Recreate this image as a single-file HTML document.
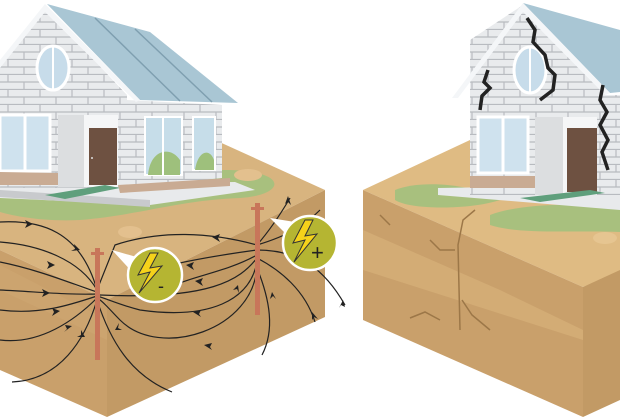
<!DOCTYPE html>
<html><head><meta charset="utf-8"><style>
html,body{margin:0;padding:0;background:#fff;width:620px;height:420px;overflow:hidden}
</style></head><body>
<svg width="620" height="420" viewBox="0 0 620 420" xmlns="http://www.w3.org/2000/svg">
<defs>
<pattern id="brick" width="32" height="15" patternUnits="userSpaceOnUse">
<rect width="32" height="15" fill="#e9ebed"/>
<path d="M0 14.5H32M0 7H32M8 0V7M24 7.5V15" stroke="#b8bbc0" stroke-width="1.2"/>
</pattern>
</defs>

<!-- LEFT BLOCK -->
<polygon points="0,175 215,140 325,190 107,300 0,250" fill="#d8b47f"/>
<polygon points="0,250 107,300 107,417 0,370" fill="#c9a06b"/>
<polygon points="107,300 325,190 325,317 107,417" fill="#c29a65"/>
<polygon points="0,265 107,320 107,340 0,290" fill="#cfa771" opacity=".6"/>
<path d="M0,190 C60,180 160,170 230,170 C290,172 285,195 240,198 C180,200 140,215 80,220 C40,222 10,215 0,212Z" fill="#a8c07e"/>
<ellipse cx="130" cy="232" rx="12" ry="6" fill="#e3c08e"/>
<ellipse cx="248" cy="175" rx="14" ry="6" fill="#e3c08e"/>

<!-- LEFT HOUSE -->
<polygon points="0,185 235,182 255,190 150,205 0,198" fill="#e8eaec"/>
<polygon points="0,190 150,200 150,207 0,197" fill="#c8cacd"/>
<polygon points="127,100 222,105 222,178 127,188" fill="url(#brick)"/>
<polygon points="0,63 45,8 127,95 127,188 0,188" fill="url(#brick)"/>
<polygon points="47,4 150,32 238,103 140,100" fill="#a9c6d4"/>
<line x1="95" y1="18" x2="180" y2="101" stroke="#7f9fb0" stroke-width="1.5"/>
<line x1="135" y1="29" x2="212" y2="102" stroke="#7f9fb0" stroke-width="1.5"/>
<polygon points="45,4 140,100 136,102 45,12 0,68 0,60" fill="#f4f6f8"/>
<ellipse cx="53" cy="68" rx="16" ry="22" fill="#c7dcea" stroke="#fff" stroke-width="3"/>
<line x1="53" y1="46" x2="53" y2="90" stroke="#fff" stroke-width="2"/>
<rect x="0" y="115" width="50" height="56" fill="#cfe2ee" stroke="#fff" stroke-width="3"/>
<line x1="25" y1="115" x2="25" y2="171" stroke="#fff" stroke-width="3"/>
<rect x="58" y="115" width="60" height="72" fill="#f5f6f7"/>
<rect x="58" y="115" width="26" height="72" fill="#dcdee0"/>
<rect x="89" y="128" width="28" height="57" fill="#6e5141"/>
<circle cx="92" cy="158" r="1" fill="#ddd"/>
<polygon points="45,195 105,185 120,188 65,199" fill="#5f9f7c"/>
<rect x="145" y="117" width="37" height="58" fill="#c6dde9" stroke="#fff" stroke-width="2"/>
<path d="M148,175 C150,150 170,145 180,160 L180,175Z" fill="#9ec07c"/>
<line x1="163" y1="117" x2="163" y2="175" stroke="#fff" stroke-width="2"/>
<rect x="193" y="117" width="22" height="53" fill="#c6dde9" stroke="#fff" stroke-width="2"/>
<path d="M195,170 C198,150 210,148 214,160 L214,170Z" fill="#9ec07c"/>
<polygon points="0,172 58,173 58,185 0,185" fill="#c9ab93"/>
<polygon points="118,185 230,178 230,186 120,193" fill="#c9ab93"/>

<!-- field lines -->
<g fill="none" stroke="#222" stroke-width="1.2">
<path d="M0,222 C40,220 80,230 97,290"/>
<path d="M0,242 C40,245 80,260 97,290"/>
<path d="M0,262 C40,270 75,285 97,292"/>
<path d="M0,290 C40,292 70,295 97,294"/>
<path d="M0,310 C40,315 70,305 97,296"/>
<path d="M0,340 C40,345 75,320 97,298"/>
<path d="M12,382 C60,380 85,340 97,300"/>
<path d="M172,392 C130,375 110,340 97,300"/>
<path d="M257,245 C210,232 160,230 115,245 L97,290"/>
<path d="M257,250 C220,255 180,262 150,270"/>
<path d="M257,255 C230,270 200,275 180,283"/>
<path d="M257,258 C240,280 210,300 100,295"/>
<path d="M257,262 C250,300 210,320 140,310 C120,305 105,298 97,296"/>
<path d="M257,265 C255,330 160,360 120,320 C110,310 102,300 97,298"/>
<path d="M257,268 C270,300 275,330 262,355"/>
<path d="M257,258 C280,270 305,290 315,322"/>
<path d="M257,250 C300,250 325,270 345,305"/>
<path d="M257,245 C270,230 280,215 290,198"/>
<path d="M257,245 C290,235 305,225 320,210"/>
</g>
<g fill="#222">
<path d="M33,224l-8,-4 2,4 -2,4z"/><path d="M80,250l-6,-6 1,5 -4,2z"/>
<path d="M55,265l-8,-4 2,4 -2,4z"/><path d="M50,293l-8,-4 2,4 -2,4z"/>
<path d="M60,311l-8,-3 2,4 -2,4z"/><path d="M72,326l-7,-1 2,4 -3,3z"/>
<path d="M85,337l-4,-7 0,5 -4,2z"/><path d="M115,330l4,-7 -1,5 4,2z"/>
<path d="M212,237l8,-3 -2,4 2,4z"/><path d="M186,265l8,-3 -2,4 2,4z"/>
<path d="M195,281l8,-3 -2,4 2,4z"/><path d="M193,312l8,-2 -2,4 2,3z"/>
<path d="M204,345l8,-2 -2,4 2,3z"/><path d="M238,285l-5,5 4,-1 2,4z"/>
<path d="M272,292l-2,7 3,-3 3,3z"/><path d="M312,312l0,8 2,-3 4,2z"/>
<path d="M343,300l2,7 -4,-2 -2,3z"/><path d="M288,196l-3,8 3,-2 3,3z"/>
</g>
<rect x="95" y="248" width="5" height="112" fill="#c8765a"/>
<rect x="91" y="252" width="13" height="3" fill="#c8765a"/>
<rect x="255" y="203" width="5" height="112" fill="#c8765a"/>
<rect x="251" y="207" width="13" height="3" fill="#c8765a"/>
<polygon points="112,250 140,258 135,275" fill="#fff"/>
<circle cx="155" cy="275" r="27" fill="#b5b532" stroke="#fff" stroke-width="2.5"/>
<path d="M150,253 L138,275 L150,272 L139,293 L162,266 L150,268 L158,253Z" fill="#f5d21a" stroke="#333" stroke-width="1"/>
<text x="158" y="292" font-family="Liberation Sans, sans-serif" font-size="18" fill="#222">-</text>
<polygon points="270,218 295,222 292,240" fill="#fff"/>
<circle cx="310" cy="243" r="27" fill="#b5b532" stroke="#fff" stroke-width="2.5"/>
<path d="M305,220 L293,243 L305,240 L294,262 L317,234 L305,236 L313,220Z" fill="#f5d21a" stroke="#333" stroke-width="1"/>
<text x="311" y="260" font-family="Liberation Sans, sans-serif" font-size="22" fill="#222">+</text>

<!-- RIGHT BLOCK -->
<polygon points="363,190 470,140 620,130 620,272 583,287" fill="#dfbb83"/>
<polygon points="363,190 583,287 583,417 363,320" fill="#c9a06b"/>
<polygon points="363,230 500,290 583,330 583,340 363,270" fill="#d4ad77" opacity=".9"/>
<polygon points="583,287 620,270 620,400 583,417" fill="#c29a65"/>
<path d="M395,190 C420,180 470,183 500,200 C470,210 410,210 395,200Z" fill="#a8c07e"/>
<path d="M490,215 C530,200 600,205 620,208 L620,232 C580,230 520,235 490,225Z" fill="#a8c07e"/>
<g fill="none" stroke="#9c7748" stroke-width="1.5">
<path d="M475,210 L463,220 L458,245 L460,330"/>
<path d="M430,240 L440,250 L455,250"/><path d="M410,318 L425,312 L440,320"/>
<path d="M462,300 L472,315 L490,330"/><path d="M380,215 L390,225"/>
</g>
<ellipse cx="605" cy="238" rx="12" ry="6" fill="#e6c591"/>

<!-- RIGHT HOUSE -->
<polygon points="438,188 620,185 620,210 438,195" fill="#e8eaec"/>
<polygon points="470,40 523,5 605,90 605,195 470,195" fill="url(#brick)"/>
<rect x="605" y="95" width="15" height="100" fill="url(#brick)"/>
<polygon points="523,3 620,30 620,92 610,93" fill="#a9c6d4"/>
<polygon points="523,3 610,93 605,95 523,12 458,98 452,98" fill="#f4f6f8"/>
<ellipse cx="530" cy="70" rx="16" ry="23" fill="#c7dcea" stroke="#fff" stroke-width="3"/>
<line x1="530" y1="47" x2="530" y2="93" stroke="#fff" stroke-width="2"/>
<rect x="478" y="117" width="50" height="56" fill="#cfe2ee" stroke="#fff" stroke-width="3"/>
<line x1="503" y1="117" x2="503" y2="173" stroke="#fff" stroke-width="3"/>
<rect x="535" y="117" width="62" height="78" fill="#f5f6f7"/>
<rect x="535" y="117" width="28" height="78" fill="#dcdee0"/>
<rect x="567" y="128" width="30" height="64" fill="#6e5141"/>
<polygon points="520,198 590,190 605,193 540,202" fill="#5f9f7c"/>
<rect x="470" y="176" width="65" height="12" fill="#c9ab93"/>
<g fill="none" stroke="#222" stroke-width="3.5">
<path d="M527,18 L535,30 L533,42 L545,55 L548,68 L555,75 L553,90 L540,100"/>
<path d="M488,70 L484,82 L490,88 L482,96 L480,110"/>
<path d="M603,85 L600,100 L607,112 L600,125 L608,140 L602,152 L608,170"/>
</g>
</svg>
</body></html>
